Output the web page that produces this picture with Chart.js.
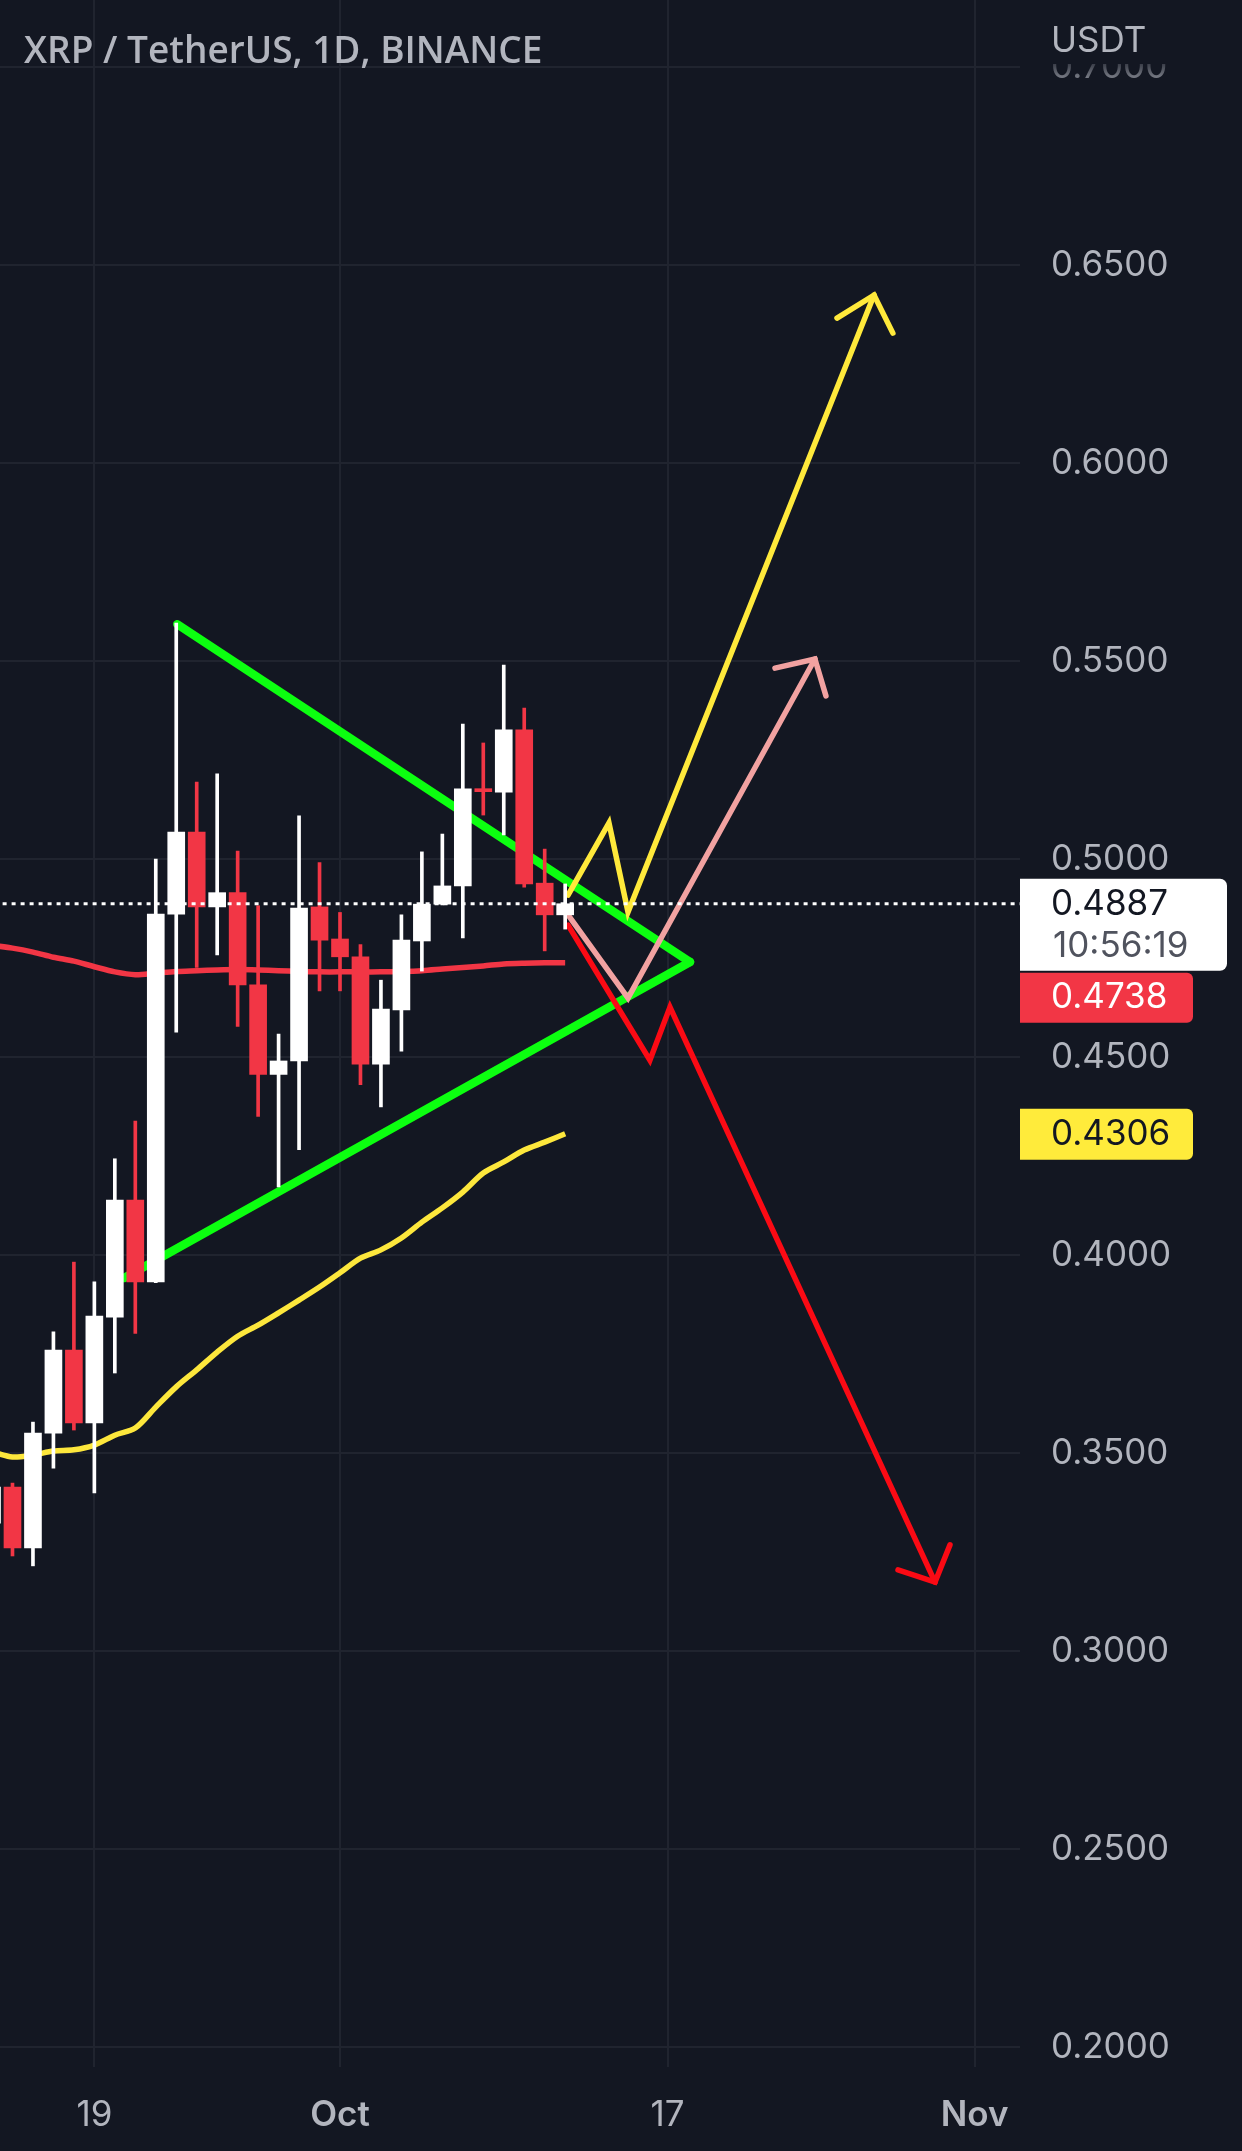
<!DOCTYPE html>
<html>
<head>
<meta charset="utf-8">
<script src="https://cdn.jsdelivr.net/npm/chart.js@4.4.1/dist/chart.umd.min.js"></script>
<style>
  html, body { margin: 0; padding: 0; background: #131722; }
  canvas { display: block; }
</style>
</head>
<body>
<canvas id="chart" width="1242" height="2151"></canvas>
<script>
// daily candles, XRP / TetherUS
const dates  = ['2022-09-14','2022-09-15','2022-09-16','2022-09-17','2022-09-18','2022-09-19','2022-09-20','2022-09-21',
                '2022-09-22','2022-09-23','2022-09-24','2022-09-25','2022-09-26','2022-09-27','2022-09-28','2022-09-29',
                '2022-09-30','2022-10-01','2022-10-02','2022-10-03','2022-10-04','2022-10-05','2022-10-06','2022-10-07',
                '2022-10-08','2022-10-09','2022-10-10','2022-10-11','2022-10-12'];
const opens  = [0.3323,0.3414,0.3260,0.3550,0.3760,0.3576,0.3843,0.4139,0.3932,0.4861,0.5068,0.4879,0.4915,0.4682,0.4456,0.4490,
                0.4879,0.4798,0.4753,0.4482,0.4619,0.4793,0.4886,0.4932,0.5177,0.5169,0.5326,0.4939,0.4859];
const highs  = [0.3450,0.3424,0.3578,0.3806,0.3982,0.3932,0.4243,0.4338,0.5000,0.5596,0.5194,0.5215,0.5020,0.4882,0.4558,0.5109,
                0.4991,0.4865,0.4784,0.4694,0.4859,0.5018,0.5063,0.5341,0.5293,0.5490,0.5381,0.5025,0.4937];
const lows   = [0.3290,0.3240,0.3215,0.3462,0.3558,0.3399,0.3702,0.3802,0.3930,0.4563,0.4726,0.4758,0.4577,0.4350,0.4172,0.4266,
                0.4667,0.4667,0.4430,0.4374,0.4515,0.4717,0.4884,0.4801,0.5111,0.5061,0.4929,0.4768,0.4823];
const closes = [0.3414,0.3260,0.3550,0.3760,0.3576,0.3846,0.4139,0.3932,0.4861,0.5068,0.4879,0.4915,0.4682,0.4456,0.4490,0.4876,
                0.4795,0.4753,0.4482,0.4621,0.4795,0.4886,0.4932,0.5177,0.5170,0.5326,0.4937,0.4859,0.4887];
// moving averages
const maRed    = [0.4782,0.4775,0.4765,0.4752,0.4742,0.4728,0.4715,0.4708,0.4712,0.4716,0.4718,0.4720,0.4721,0.4720,0.4718,0.4716,
                  0.4715,0.4715,0.4715,0.4715,0.4716,0.4718,0.4722,0.4726,0.4730,0.4735,0.4737,0.4738,0.4738];
const maYellow = [0.3503,0.3490,0.3495,0.3505,0.3508,0.3520,0.3545,0.3563,0.3616,0.3667,0.3710,0.3755,0.3795,0.3823,0.3854,0.3886,
                  0.3919,0.3955,0.3992,0.4013,0.4043,0.4083,0.4119,0.4159,0.4207,0.4235,0.4265,0.4285,0.4306];

const lastPrice = 0.4887;
const countdown = '10:56:19';
const maRedLast = 0.4738;
const maYellowLast = 0.4306;

const xTickDays   = [-12, 0, 16, 31];
const xTickLabels = ['19', 'Oct', '17', 'Nov'];
const yTickLabels = ['0.2000','0.2500','0.3000','0.3500','0.4000','0.4500','0.5000','0.5500','0.6000','0.6500','0.7000'];

// drawings, [days from Oct 1, price]
const triUpper   = [[-7.95, 0.5593], [17.1, 0.4740]];
const triLower   = [[-10.55, 0.3942], [17.1, 0.4740]];
const yellowPath = [[11.14, 0.4909], [13.14, 0.5091], [14.07, 0.4866], [26.09, 0.6424]];
const yellowHead = [[24.28, 0.6366], [26.09, 0.6424], [27.01, 0.6328]];
const pinkPath   = [[11.14, 0.4859], [14.07, 0.4649], [23.2, 0.5505]];
const pinkHead   = [[21.25, 0.5482], [23.2, 0.5505], [23.74, 0.5412]];
const redPath    = [[11.14, 0.4833], [15.14, 0.4492], [16.12, 0.4626], [29.07, 0.3174]];
const redHead    = [[27.26, 0.3205], [29.07, 0.3174], [29.8, 0.3268]];

const BG = '#131722';
const TXT = '#b2b5be';
const UP = '#ffffff';
const DOWN = '#f23645';

const day = s => Math.round((Date.parse(s) - Date.parse('2022-10-01')) / 864e5);
const xs = dates.map(day);
const candleCol = opens.map((o, i) => closes[i] < o ? DOWN : UP);
const pts = arr => arr.map(p => ({x: p[0], y: p[1]}));

function drawLine(data, color, width, order) {
  return {
    type: 'line', data: pts(data), borderColor: color, borderWidth: width,
    pointRadius: 0, tension: 0, fill: false, order: order,
    borderCapStyle: 'round', borderJoinStyle: 'miter'
  };
}

const overlay = {
  id: 'overlay',
  beforeDraw(chart) {
    const ctx = chart.ctx;
    ctx.save();
    ctx.fillStyle = BG;
    ctx.fillRect(0, 0, chart.width, chart.height);
    ctx.restore();
  },
  afterDraw(chart) {
    const ctx = chart.ctx;
    const y = chart.scales.y;
    const lx = y.left;
    ctx.save();
    // header of the price scale hides most of the top label
    ctx.fillStyle = BG;
    ctx.fillRect(lx + 1, 0, y.width, 64);
    const g = ctx.createLinearGradient(0, 64, 0, 84);
    g.addColorStop(0, 'rgba(19,23,34,0.75)');
    g.addColorStop(1, 'rgba(19,23,34,0.2)');
    ctx.fillStyle = g;
    ctx.fillRect(lx + 1, 64, y.width, 20);

    ctx.textBaseline = 'middle';
    ctx.textAlign = 'left';
    ctx.fillStyle = TXT;
    ctx.font = '35px Inter';
    ctx.fillText('USDT', lx + 31, 41);

    ctx.font = '600 37px "Open Sans"';
    ctx.textBaseline = 'alphabetic';
    ctx.fillText('XRP / TetherUS, 1D, BINANCE', 24, 63);

    // last price + countdown
    const py = y.getPixelForValue(lastPrice);
    ctx.fillStyle = '#ffffff';
    ctx.beginPath();
    ctx.roundRect(lx, py - 25, 207, 92, [0, 7, 7, 0]);
    ctx.fill();
    ctx.textBaseline = 'middle';
    ctx.font = '35px Inter';
    ctx.fillStyle = '#131722';
    ctx.fillText(lastPrice.toFixed(4), lx + 31, py + 1);
    ctx.fillStyle = '#50535e';
    ctx.fillText(countdown, lx + 33, py + 43);

    // red MA value
    ctx.fillStyle = DOWN;
    ctx.beginPath();
    ctx.roundRect(lx, py + 69, 173, 50, [0, 6, 6, 0]);
    ctx.fill();
    ctx.fillStyle = '#ffffff';
    ctx.fillText(maRedLast.toFixed(4), lx + 31, py + 94);

    // yellow MA value
    const yy = y.getPixelForValue(maYellowLast);
    ctx.fillStyle = '#ffeb3b';
    ctx.beginPath();
    ctx.roundRect(lx, yy - 25, 173, 51, [0, 6, 6, 0]);
    ctx.fill();
    ctx.fillStyle = '#131722';
    ctx.fillText(maYellowLast.toFixed(4), lx + 31, yy + 1);
    ctx.restore();
  }
};

Chart.defaults.font.family = 'Inter';

new Chart(document.getElementById('chart'), {
  type: 'line',
  data: {
    datasets: [
      {
        type: 'line', data: [{x: -20, y: lastPrice}, {x: 40, y: lastPrice}],
        borderColor: '#ffffff', borderWidth: 3, borderDash: [4, 5],
        pointRadius: 0, order: 0
      },
      {
        type: 'bar', data: xs.map((x, i) => ({x: x, y: [opens[i], closes[i]]})),
        backgroundColor: candleCol, borderWidth: 0, barThickness: 17,
        grouped: false, minBarLength: 3, order: 1
      },
      {
        type: 'bar', data: xs.map((x, i) => ({x: x, y: [lows[i], highs[i]]})),
        backgroundColor: candleCol, borderWidth: 0, barThickness: 3,
        grouped: false, order: 2
      },
      drawLine(yellowPath, '#ffe93b', 5.5, 3),
      drawLine(yellowHead, '#ffe93b', 5.5, 3),
      drawLine(pinkPath, '#f2a2a1', 5.5, 3),
      drawLine(pinkHead, '#f2a2a1', 5.5, 3),
      drawLine(redPath, '#fb0a14', 5.5, 3),
      drawLine(redHead, '#fb0a14', 5.5, 3),
      drawLine(triUpper, '#0cff10', 8.5, 4),
      drawLine(triLower, '#0cff10', 8.5, 4),
      {
        type: 'line', data: xs.map((x, i) => ({x: x, y: maRed[i]})),
        borderColor: '#f23645', borderWidth: 5.5, pointRadius: 0, tension: 0.3, order: 5
      },
      {
        type: 'line', data: xs.map((x, i) => ({x: x, y: maYellow[i]})),
        borderColor: '#fde73c', borderWidth: 5.5, pointRadius: 0, tension: 0.3, order: 5
      }
    ]
  },
  options: {
    responsive: false,
    animation: false,
    devicePixelRatio: 1,
    layout: { padding: 0 },
    plugins: { legend: { display: false }, tooltip: { enabled: false } },
    scales: {
      x: {
        type: 'linear', position: 'bottom', min: -16.61, max: 33.22, offset: false,
        afterFit: s => { s.height = 84; s.paddingLeft = 0; s.paddingRight = 0; },
        afterBuildTicks: s => { s.ticks = xTickDays.map(v => ({value: v})); },
        grid: { color: '#20242f', lineWidth: 2, drawTicks: false, offset: false },
        border: { display: false },
        ticks: {
          padding: 27, color: TXT, maxRotation: 0, autoSkip: false,
          callback: v => xTickLabels[xTickDays.indexOf(v)],
          font: c => ({ size: 35, family: 'Inter',
                        weight: (c.tick && (c.tick.value === 0 || c.tick.value === 31)) ? '600' : '400' })
        }
      },
      y: {
        type: 'linear', position: 'right', min: 0.19495, max: 0.71692,
        afterFit: s => { s.width = 222; s.paddingTop = 0; s.paddingBottom = 0; },
        afterBuildTicks: s => { s.ticks = yTickLabels.map(t => ({value: parseFloat(t)})); },
        grid: { color: '#20242f', lineWidth: 2, drawTicks: false },
        border: { display: false },
        ticks: {
          padding: 31, color: TXT, font: { size: 35, family: 'Inter' },
          callback: v => v.toFixed(4)
        }
      }
    }
  },
  plugins: [overlay]
});
</script>
</body>
</html>
